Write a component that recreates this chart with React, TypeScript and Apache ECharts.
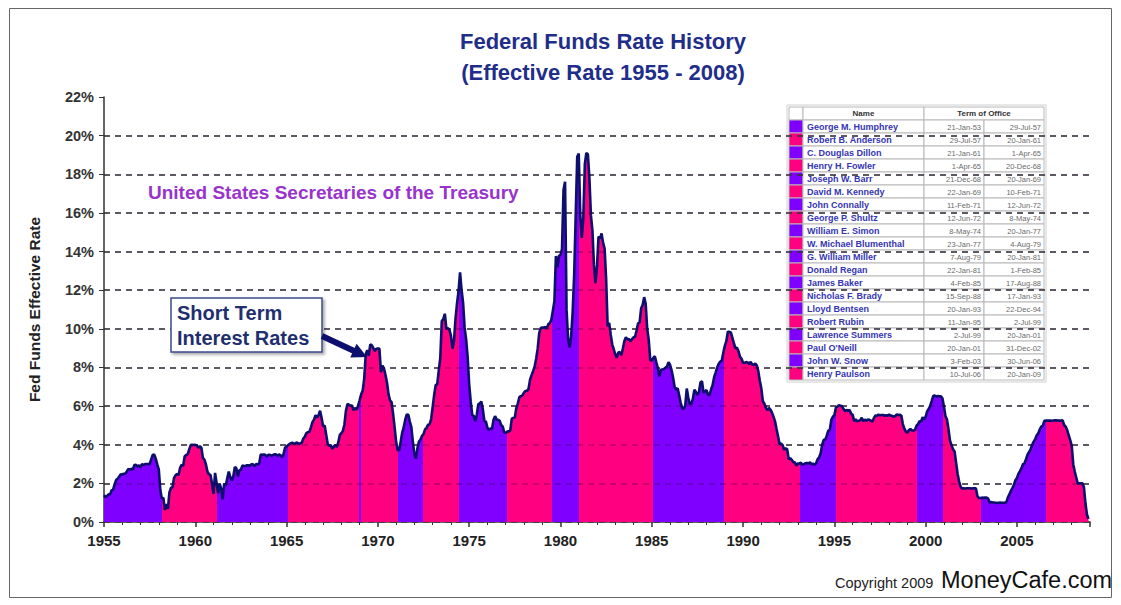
import React, { useEffect, useRef } from "react";
import * as echarts from "echarts";

// Effective federal funds rate, monthly (%)
const r1955_59 = [
  1.39, 1.29, 1.35, 1.43, 1.43, 1.64, 1.68, 1.96, 2.18, 2.24, 2.35, 2.48,
  2.45, 2.5, 2.5, 2.62, 2.75, 2.71, 2.75, 2.73, 2.95, 2.96, 2.88, 2.94,
  2.84, 3.0, 2.96, 3.0, 3.0, 3.0, 2.99, 3.24, 3.47, 3.5, 3.28, 2.98,
  2.72, 1.67, 1.2, 1.26, 0.63, 0.93, 0.68, 1.53, 1.76, 1.8, 2.27, 2.42,
  2.48, 2.43, 2.8, 2.96, 2.9, 3.39, 3.47, 3.5, 3.76, 3.98, 4.0, 3.99,
];
const r1960s = [
  3.99, 3.97, 3.84, 3.92, 3.85, 3.32, 3.23, 2.98, 2.6, 2.47, 2.44, 1.98,
  1.45, 2.54, 2.02, 1.49, 1.98, 1.73, 1.17, 2.0, 1.88, 2.26, 2.61, 2.33,
  2.15, 2.37, 2.85, 2.78, 2.36, 2.68, 2.71, 2.93, 2.9, 2.9, 2.94, 2.93,
  2.92, 3.0, 2.98, 2.9, 3.0, 2.99, 3.02, 3.49, 3.48, 3.5, 3.48, 3.38,
  3.48, 3.48, 3.43, 3.47, 3.5, 3.5, 3.42, 3.5, 3.45, 3.36, 3.52, 3.85,
  3.9, 3.98, 4.04, 4.09, 4.1, 4.04, 4.09, 4.12, 4.01, 4.08, 4.1, 4.32,
  4.42, 4.6, 4.65, 4.67, 4.9, 5.17, 5.3, 5.53, 5.4, 5.53, 5.76, 5.4,
  4.94, 5.0, 4.53, 4.05, 3.94, 3.98, 3.79, 3.9, 3.99, 3.88, 4.13, 4.51,
  4.6, 4.71, 5.05, 5.76, 6.11, 6.07, 6.02, 6.03, 5.78, 5.91, 5.82, 6.02,
  6.3, 6.61, 6.79, 7.41, 8.67, 8.9, 8.61, 9.19, 9.15, 9.0, 8.85, 8.97,
];
const r1970s = [
  8.98, 8.98, 7.76, 8.1, 7.95, 7.61, 7.21, 6.61, 6.29, 6.2, 5.6, 4.9,
  4.14, 3.72, 3.71, 4.15, 4.63, 4.91, 5.31, 5.57, 5.55, 5.2, 4.91, 4.14,
  3.5, 3.29, 3.83, 4.17, 4.27, 4.46, 4.55, 4.8, 4.87, 5.04, 5.06, 5.33,
  5.94, 6.58, 7.09, 7.12, 7.84, 8.49, 10.4, 10.5, 10.78, 10.01, 10.03, 9.95,
  9.65, 8.97, 9.35, 10.51, 11.31, 11.93, 12.92, 12.01, 11.34, 10.06, 9.45, 8.53,
  7.13, 6.24, 5.54, 5.49, 5.22, 5.55, 6.1, 6.14, 6.24, 5.82, 5.22, 5.2,
  4.87, 4.77, 4.84, 4.82, 5.29, 5.48, 5.31, 5.29, 5.25, 5.02, 4.95, 4.65,
  4.61, 4.68, 4.69, 4.73, 5.35, 5.39, 5.42, 5.9, 6.14, 6.47, 6.51, 6.56,
  6.7, 6.78, 6.79, 6.89, 7.36, 7.6, 7.81, 8.04, 8.45, 8.96, 9.76, 10.03,
  10.07, 10.06, 10.09, 10.01, 10.24, 10.29, 10.47, 10.94, 11.43, 13.77, 13.18, 13.78,
];
const r1980s = [
  13.82, 14.13, 17.19, 17.61, 10.98, 9.47, 9.03, 9.61, 10.87, 12.81, 15.85, 18.9,
  19.08, 15.93, 14.7, 15.72, 18.52, 19.1, 19.04, 17.82, 15.87, 15.08, 13.31, 12.37,
  13.22, 14.78, 14.68, 14.94, 14.45, 14.15, 12.59, 10.12, 10.31, 9.71, 9.2, 8.95,
  8.68, 8.51, 8.77, 8.8, 8.63, 8.98, 9.37, 9.56, 9.45, 9.48, 9.34, 9.47,
  9.56, 9.59, 9.91, 10.29, 10.32, 11.06, 11.23, 11.64, 11.3, 9.99, 9.43, 8.38,
  8.35, 8.5, 8.58, 8.27, 7.97, 7.53, 7.88, 7.9, 7.92, 7.99, 8.05, 8.27,
  8.14, 7.86, 7.48, 6.99, 6.85, 6.92, 6.56, 6.17, 5.89, 5.85, 6.04, 6.91,
  6.43, 6.1, 6.13, 6.37, 6.85, 6.73, 6.58, 6.73, 7.22, 7.29, 6.69, 6.77,
  6.83, 6.58, 6.58, 6.87, 7.09, 7.51, 7.75, 8.01, 8.19, 8.3, 8.35, 8.76,
  9.12, 9.36, 9.85, 9.84, 9.81, 9.53, 9.24, 8.99, 9.02, 8.84, 8.55, 8.45,
];
const r1990s = [
  8.23, 8.24, 8.28, 8.26, 8.18, 8.29, 8.15, 8.13, 8.2, 8.11, 7.81, 7.31,
  6.91, 6.25, 6.12, 5.91, 5.78, 5.9, 5.82, 5.66, 5.45, 5.21, 4.81, 4.43,
  4.03, 4.06, 3.98, 3.73, 3.82, 3.76, 3.25, 3.3, 3.22, 3.1, 3.09, 2.92,
  3.02, 3.03, 3.07, 2.96, 3.0, 3.04, 3.06, 3.03, 3.09, 2.99, 3.02, 2.96,
  3.05, 3.25, 3.34, 3.56, 4.01, 4.25, 4.26, 4.47, 4.73, 4.76, 5.29, 5.45,
  5.53, 5.92, 5.98, 6.05, 6.01, 6.0, 5.85, 5.74, 5.8, 5.76, 5.8, 5.6,
  5.56, 5.22, 5.31, 5.22, 5.24, 5.27, 5.4, 5.22, 5.3, 5.24, 5.31, 5.29,
  5.25, 5.19, 5.39, 5.51, 5.5, 5.56, 5.52, 5.54, 5.54, 5.5, 5.52, 5.5,
  5.56, 5.51, 5.49, 5.45, 5.49, 5.56, 5.54, 5.55, 5.51, 5.07, 4.83, 4.68,
  4.63, 4.76, 4.81, 4.74, 4.74, 4.76, 4.99, 5.07, 5.22, 5.2, 5.42, 5.3,
];
const r2000s = [
  5.45, 5.73, 5.85, 6.02, 6.27, 6.53, 6.54, 6.5, 6.52, 6.51, 6.51, 6.4,
  5.98, 5.49, 5.31, 4.8, 4.21, 3.97, 3.77, 3.65, 3.07, 2.49, 2.09, 1.82,
  1.73, 1.74, 1.73, 1.75, 1.75, 1.75, 1.73, 1.74, 1.75, 1.75, 1.34, 1.24,
  1.24, 1.26, 1.25, 1.26, 1.26, 1.22, 1.01, 1.03, 1.01, 1.01, 1.0, 0.98,
  1.0, 1.01, 1.0, 1.0, 1.0, 1.03, 1.26, 1.43, 1.61, 1.76, 1.93, 2.16,
  2.28, 2.5, 2.63, 2.79, 3.0, 3.04, 3.26, 3.5, 3.62, 3.78, 4.0, 4.16,
  4.29, 4.49, 4.59, 4.79, 4.94, 4.99, 5.24, 5.25, 5.25, 5.25, 5.25, 5.24,
  5.25, 5.26, 5.26, 5.25, 5.25, 5.25, 5.26, 5.02, 4.94, 4.76, 4.49, 4.24,
  3.94, 2.98, 2.61, 2.28, 1.98, 2.0, 2.01, 2.0, 1.81, 0.97, 0.39, 0.16,
];

// Secretaries of the Treasury
const secretaries = [
  "George M. Humphrey", "Robert B. Anderson", "C. Douglas Dillon", "Henry H. Fowler",
  "Joseph W. Barr", "David M. Kennedy", "John Connally", "George P. Shultz",
  "William E. Simon", "W. Michael Blumenthal", "G. William Miller", "Donald Regan",
  "James Baker", "Nicholas F. Brady", "Lloyd Bentsen", "Robert Rubin",
  "Lawrence Summers", "Paul O'Neill", "John W. Snow", "Henry Paulson",
];
const termStart = [
  "21-Jan-53", "29-Jul-57", "21-Jan-61", "1-Apr-65", "21-Dec-68", "22-Jan-69",
  "11-Feb-71", "12-Jun-72", "8-May-74", "23-Jan-77", "7-Aug-79", "22-Jan-81",
  "4-Feb-85", "15-Sep-88", "20-Jan-93", "11-Jan-95", "2-Jul-99", "20-Jan-01",
  "3-Feb-03", "10-Jul-06",
];
const termEnd = [
  "29-Jul-57", "20-Jan-61", "1-Apr-65", "20-Dec-68", "20-Jan-69", "10-Feb-71",
  "12-Jun-72", "8-May-74", "20-Jan-77", "4-Aug-79", "20-Jan-81", "1-Feb-85",
  "17-Aug-88", "17-Jan-93", "22-Dec-94", "2-Jul-99", "20-Jan-01", "31-Dec-02",
  "30-Jun-06", "20-Jan-09",
];
// band edges between terms as drawn (decimal years)
const bandEdges = [
  1958.2, 1961.2, 1965.1, 1968.95, 1969.06, 1971.1, 1972.5, 1974.45, 1977.05,
  1979.55, 1981.0, 1985.05, 1988.95, 1993.1, 1995.1, 1999.5, 2000.95, 2003.05, 2006.6,
];

const PURPLE = "#7F00FF";
const PINK = "#FF0080";
const NAVY = "#0D0F6E";
const FONT = "'Liberation Sans', Arial, sans-serif";

function monthly(start: number, vals: number[]) {
  return vals.map((v, i) => [start + i / 12, v]);
}

const rateData = [
  ...monthly(1955, r1955_59),
  ...monthly(1960, r1960s),
  ...monthly(1970, r1970s),
  ...monthly(1980, r1980s),
  ...monthly(1990, r1990s),
  ...monthly(2000, r2000s),
];

function buildTable() {
  const x0 = 789;
  const y0 = 107;
  const wSw = 14, wName = 121, wDate = 60;
  const hHead = 13, hRow = 13;
  const cellStroke = "#b8b8b8";
  const els: any[] = [];
  const totalW = wSw + wName + 2 * wDate;
  els.push({
    type: "rect",
    shape: { x: x0 - 2, y: y0 - 2, width: totalW + 4, height: hHead + hRow * secretaries.length + 4 },
    style: { fill: "#fff", stroke: "#d0d0d0", lineWidth: 1 },
  });
  els.push({ type: "rect", shape: { x: x0, y: y0, width: wSw, height: hHead }, style: { fill: "#fff", stroke: cellStroke, lineWidth: 1 } });
  els.push({ type: "rect", shape: { x: x0 + wSw, y: y0, width: wName, height: hHead }, style: { fill: "#fff", stroke: cellStroke, lineWidth: 1 } });
  els.push({ type: "rect", shape: { x: x0 + wSw + wName, y: y0, width: 2 * wDate, height: hHead }, style: { fill: "#fff", stroke: cellStroke, lineWidth: 1 } });
  els.push({
    type: "text",
    style: { text: "Name", x: x0 + wSw + wName / 2, y: y0 + hHead / 2, fill: "#333", font: `bold 8px ${FONT}`, align: "center", verticalAlign: "middle", textAlign: "center", textVerticalAlign: "middle" },
  });
  els.push({
    type: "text",
    style: { text: "Term of Office", x: x0 + wSw + wName + wDate, y: y0 + hHead / 2, fill: "#333", font: `bold 8px ${FONT}`, align: "center", verticalAlign: "middle", textAlign: "center", textVerticalAlign: "middle" },
  });
  secretaries.forEach((name, i) => {
    const y = y0 + hHead + i * hRow;
    const color = i % 2 === 0 ? PURPLE : PINK;
    els.push({ type: "rect", shape: { x: x0, y, width: wSw, height: hRow }, style: { fill: color, stroke: cellStroke, lineWidth: 1 } });
    els.push({ type: "rect", shape: { x: x0 + wSw, y, width: wName, height: hRow }, style: { fill: "#fff", stroke: cellStroke, lineWidth: 1 } });
    els.push({ type: "rect", shape: { x: x0 + wSw + wName, y, width: wDate, height: hRow }, style: { fill: "#fff", stroke: cellStroke, lineWidth: 1 } });
    els.push({ type: "rect", shape: { x: x0 + wSw + wName + wDate, y, width: wDate, height: hRow }, style: { fill: "#fff", stroke: cellStroke, lineWidth: 1 } });
    els.push({
      type: "text",
      style: { text: name, x: x0 + wSw + 4, y: y + hRow / 2 + 0.5, fill: "#3434B4", font: `bold 9px ${FONT}`, align: "left", verticalAlign: "middle", textAlign: "left", textVerticalAlign: "middle" },
    });
    els.push({
      type: "text",
      style: { text: termStart[i], x: x0 + wSw + wName + wDate - 3, y: y + hRow / 2 + 0.5, fill: "#6a6a6a", font: `7.5px ${FONT}`, align: "right", verticalAlign: "middle", textAlign: "right", textVerticalAlign: "middle" },
    });
    els.push({
      type: "text",
      style: { text: termEnd[i], x: x0 + wSw + wName + 2 * wDate - 3, y: y + hRow / 2 + 0.5, fill: "#6a6a6a", font: `7.5px ${FONT}`, align: "right", verticalAlign: "middle", textAlign: "right", textVerticalAlign: "middle" },
    });
  });
  return { type: "group", z: 100, children: els };
}

function txt(text: string, x: number, y: number, font: string, fill: string, align = "left") {
  return {
    type: "text",
    z: 100,
    style: { text, x, y, font, fill, align, verticalAlign: "middle", textAlign: align, textVerticalAlign: "middle" },
  };
}

export default function App() {
  const ref = useRef<HTMLDivElement>(null);
  useEffect(() => {
    if (!ref.current) return;
    const chart = echarts.init(ref.current, undefined, { renderer: "svg" });

    const pieces = secretaries.map((_, i) => ({
      gte: i === 0 ? 1950 : bandEdges[i - 1],
      lt: i === secretaries.length - 1 ? 2010 : bandEdges[i],
      color: i % 2 === 0 ? PURPLE : PINK,
    }));

    const gridLevels = [2, 4, 6, 8, 10, 12, 14, 16, 18, 20];
    const splitColors = [
      "#444", "#444", "#444", "#444", "#444", "#444", "#444", "#444", "#444", "#444", "#444", "rgba(0,0,0,0)",
    ];

    // arrow geometry
    const ax0 = 322, ay0 = 336, tipX = 367, tipY = 357;
    const dx = tipX - ax0, dy = tipY - ay0;
    const len = Math.hypot(dx, dy);
    const ux = dx / len, uy = dy / len;
    const px = -uy, py = ux;
    const headL = 15, headW = 7.5;
    const bx = tipX - ux * headL, by = tipY - uy * headL;

    chart.setOption({
      animation: false,
      backgroundColor: "#fff",
      grid: { left: 104, right: 31, top: 97, bottom: 83, containLabel: false },
      xAxis: {
        type: "value",
        min: 1955,
        max: 2009,
        interval: 5,
        axisLine: { show: true, onZero: false, lineStyle: { color: "#333", width: 1.5 } },
        axisTick: { show: true, length: 5, lineStyle: { color: "#333", width: 1.5 } },
        minorTick: { show: true, splitNumber: 5, length: 3, lineStyle: { color: "#333", width: 1 } },
        splitLine: { show: false },
        axisLabel: {
          margin: 11,
          color: "#222",
          fontFamily: FONT,
          fontWeight: "bold",
          fontSize: 15,
          formatter: (v: number) => (v % 5 === 0 ? String(v) : ""),
        },
      },
      yAxis: {
        type: "value",
        min: 0,
        max: 22,
        interval: 2,
        name: "Fed Funds Effective Rate",
        nameLocation: "middle",
        nameGap: 62,
        nameRotate: 90,
        nameTextStyle: { color: "#222", fontFamily: FONT, fontWeight: "bold", fontSize: 15.5 },
        axisLine: { show: true, lineStyle: { color: "#333", width: 1.5 } },
        axisTick: { show: true, length: 5, lineStyle: { color: "#333", width: 1 } },
        splitLine: { show: true, lineStyle: { color: splitColors, type: [6, 5], width: 1.5 } },
        axisLabel: {
          margin: 10,
          color: "#333",
          fontFamily: FONT,
          fontWeight: "bold",
          fontSize: 14.5,
          formatter: "{value}%",
        },
      },
      visualMap: {
        show: false,
        type: "piecewise",
        dimension: 0,
        seriesIndex: 0,
        pieces,
        outOfRange: { color: PINK },
      },
      series: [
        {
          type: "line",
          data: rateData,
          showSymbol: false,
          symbol: "none",
          lineStyle: { width: 0, opacity: 0 },
          areaStyle: { opacity: 1 },
          silent: true,
          z: 2,
        },
        {
          type: "line",
          data: rateData,
          showSymbol: false,
          symbol: "none",
          lineStyle: { color: NAVY, width: 2.6 },
          silent: true,
          z: 4,
          markLine: {
            silent: true,
            symbol: ["none", "none"],
            label: { show: false },
            lineStyle: { color: "rgba(30,0,50,0.3)", type: [6, 5], width: 1.5 },
            data: gridLevels.map((v) => ({ yAxis: v })),
          },
        },
      ],
      graphic: [
        {
          type: "rect",
          z: 0,
          shape: { x: 9.5, y: 8.5, width: 1102, height: 589 },
          style: { fill: "none", stroke: "#666", lineWidth: 1 },
        },
        txt("Federal Funds Rate History", 603, 41, `bold 22px ${FONT}`, "#1F2E8A", "center"),
        txt("(Effective Rate 1955 - 2008)", 603, 72, `bold 22px ${FONT}`, "#1F2E8A", "center"),
        txt("United States Secretaries of the Treasury", 148, 192, `bold 19px ${FONT}`, "#9933CC", "left"),
        {
          type: "rect",
          z: 100,
          shape: { x: 171, y: 298, width: 151, height: 54 },
          style: { fill: "#fff", stroke: "#3C4A8C", lineWidth: 1.5, shadowBlur: 3, shadowOffsetX: 2, shadowOffsetY: 2, shadowColor: "rgba(0,0,0,0.35)" },
        },
        txt("Short Term", 177, 313, `bold 20px ${FONT}`, "#1F2F70", "left"),
        txt("Interest Rates", 177, 338, `bold 20px ${FONT}`, "#1F2F70", "left"),
        {
          type: "line",
          z: 100,
          shape: { x1: ax0, y1: ay0, x2: bx + ux * 2, y2: by + uy * 2 },
          style: { stroke: NAVY, lineWidth: 6 },
        },
        {
          type: "polygon",
          z: 100,
          shape: {
            points: [
              [tipX, tipY],
              [bx + px * headW, by + py * headW],
              [bx - px * headW, by - py * headW],
            ],
          },
          style: { fill: NAVY },
        },
        buildTable(),
        txt("Copyright 2009", 835, 583, `14.5px ${FONT}`, "#222", "left"),
        txt("MoneyCafe.com", 941, 580, `23.5px ${FONT}`, "#111", "left"),
      ],
    });
    return () => chart.dispose();
  }, []);
  return (
    <div
      ref={ref}
      style={{ position: "fixed", left: 0, top: 0, width: 1121, height: 605, background: "#fff" }}
    />
  );
}
